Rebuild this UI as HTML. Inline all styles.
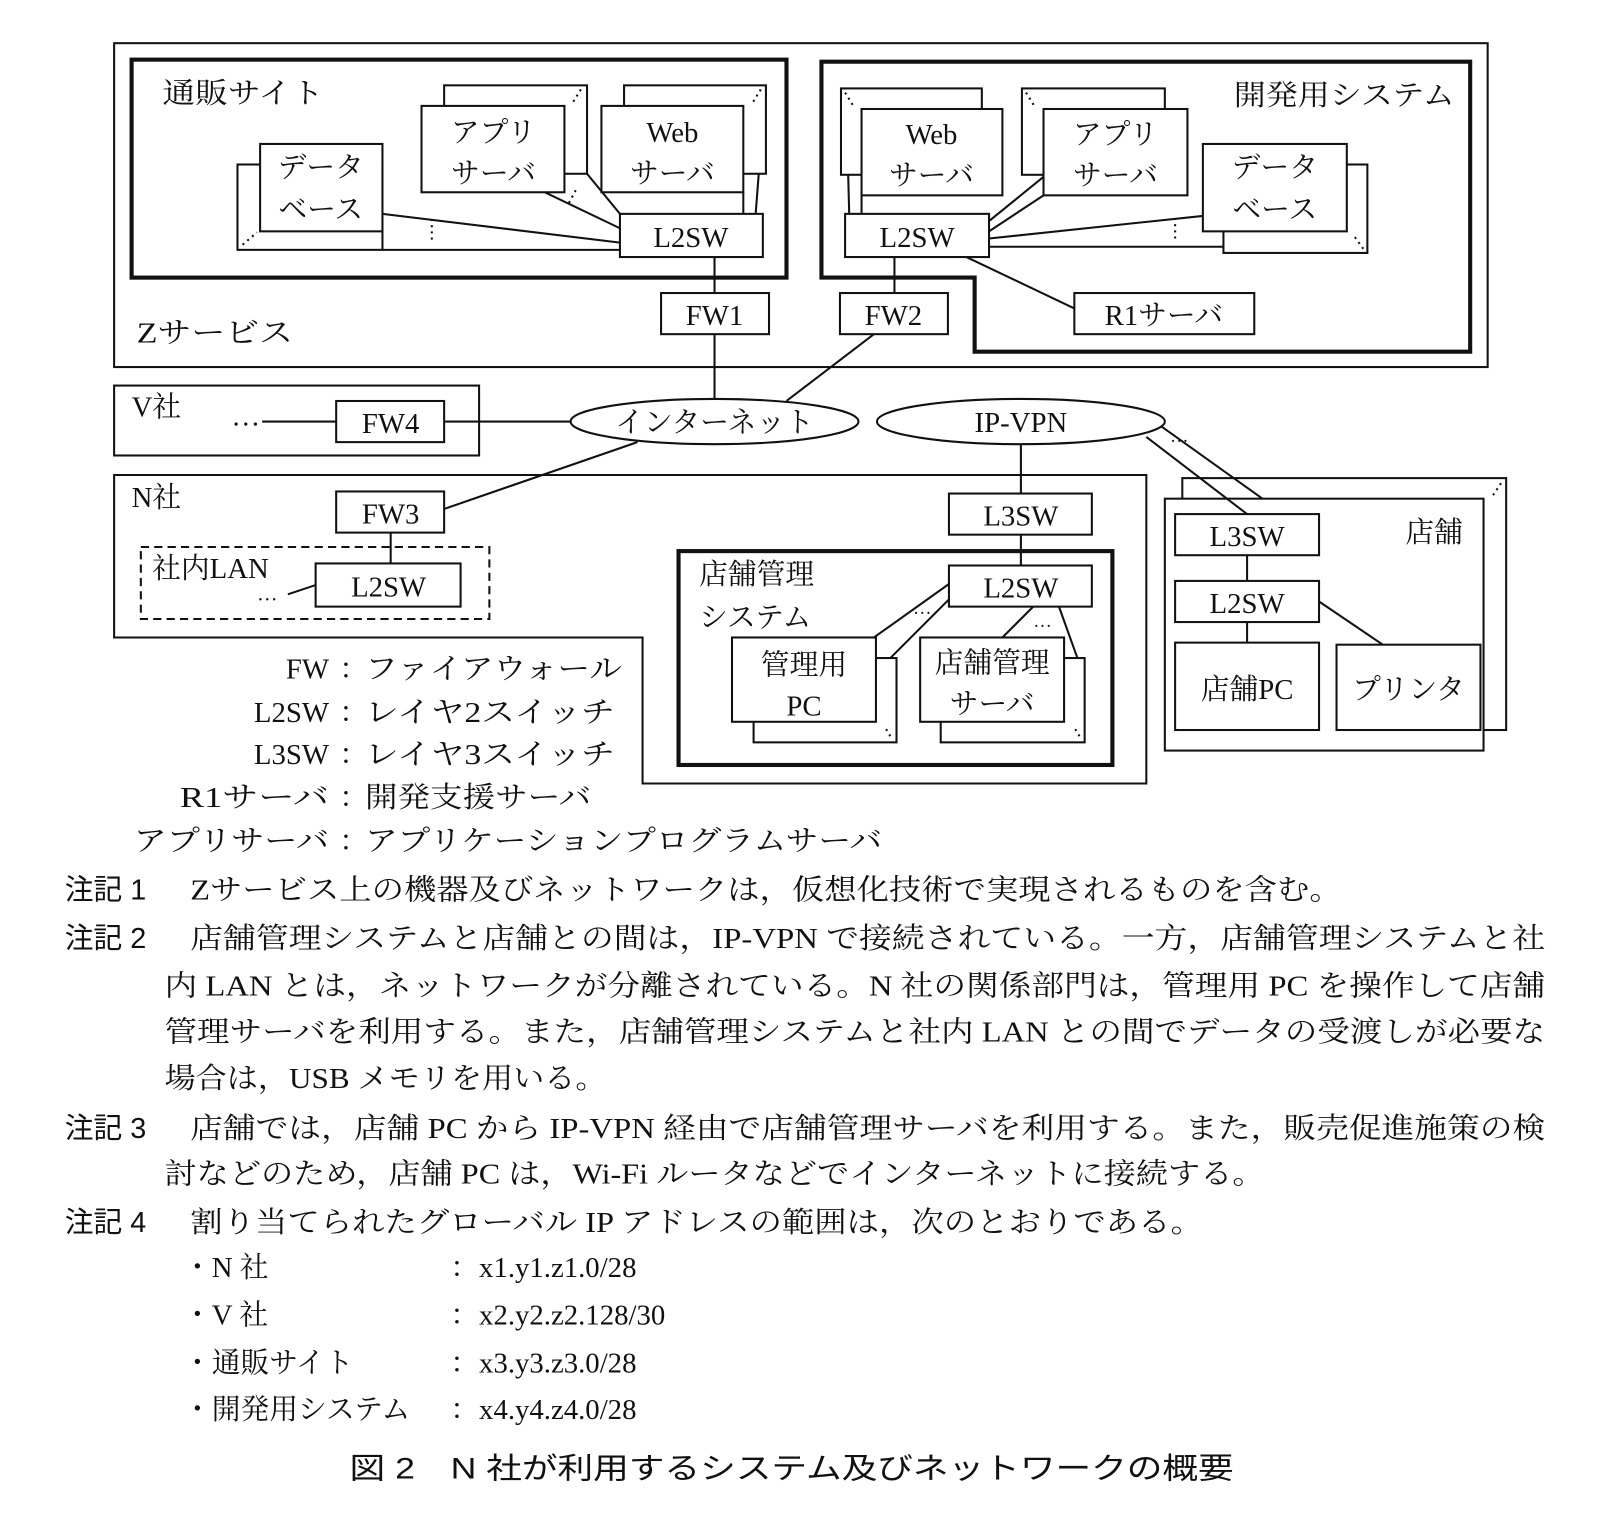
<!DOCTYPE html>
<html><head><meta charset="utf-8"><style>
html,body{margin:0;padding:0;background:#fff;}
svg{display:block;}
text{font-family:"Liberation Serif","Noto Serif CJK SC",serif;fill:#111;}
.s{font-family:"Liberation Sans","Noto Sans CJK JP",sans-serif;}
</style></head><body>
<svg width="1610" height="1532" viewBox="0 0 1566 1490" preserveAspectRatio="none" xmlns="http://www.w3.org/2000/svg">
<g fill="#fff" stroke="#111" stroke-width="2">
<rect x="111" y="42" width="1336" height="315"/>
<rect x="128" y="58" width="637" height="212" stroke-width="4"/>
<polygon points="799,60 1430,60 1430,342 948,342 948,270 799,270" stroke-width="4"/>
<rect x="231" y="160" width="141" height="83"/>
<rect x="253" y="140" width="119" height="85"/>
<rect x="432" y="83" width="139" height="86"/>
<rect x="410" y="103" width="139" height="84"/>
<rect x="607" y="83" width="138" height="86"/>
<rect x="585" y="103" width="138" height="84"/>
<rect x="603" y="208" width="139" height="42"/>
<rect x="818" y="86" width="137" height="84"/>
<rect x="838" y="106" width="137" height="84"/>
<rect x="994" y="86" width="139" height="84"/>
<rect x="1015" y="106" width="140" height="84"/>
<rect x="1190" y="160" width="140" height="86"/>
<rect x="1170" y="140" width="140" height="85"/>
<rect x="822" y="208" width="140" height="42"/>
<rect x="643" y="285" width="105" height="40"/>
<rect x="817" y="285" width="105" height="40"/>
<rect x="1045" y="285" width="175" height="40"/>
<rect x="111" y="375" width="355" height="68"/>
<rect x="327" y="390" width="105" height="40"/>
<ellipse cx="695" cy="410" rx="140" ry="22"/>
<ellipse cx="993" cy="410" rx="140" ry="22"/>
<polygon points="111,462 1115,462 1115,762 625,762 625,620 111,620"/>
<rect x="327" y="478" width="105" height="40"/>
<rect x="137" y="532" width="339" height="70" stroke-dasharray="8,5"/>
<rect x="307" y="548" width="141" height="42"/>
<rect x="923" y="480" width="139" height="40"/>
<rect x="660" y="536" width="422" height="208" stroke-width="4"/>
<rect x="923" y="550" width="139" height="40"/>
<rect x="733" y="640" width="139" height="82"/>
<rect x="712" y="620" width="140" height="82"/>
<rect x="915" y="640" width="140" height="82"/>
<rect x="895" y="620" width="140" height="82"/>
<rect x="1150" y="465" width="315" height="245"/>
<rect x="1133" y="485" width="310" height="245"/>
<rect x="1143" y="500" width="140" height="40"/>
<rect x="1143" y="565" width="140" height="40"/>
<rect x="1143" y="625" width="140" height="85"/>
<rect x="1300" y="627" width="140" height="83"/>
</g>
<g stroke="#111" stroke-width="2" fill="none">
<line x1="372" y1="208" x2="603" y2="236"/>
<line x1="372" y1="243" x2="603" y2="243"/>
<line x1="530" y1="187" x2="603" y2="222"/>
<line x1="571" y1="169" x2="603" y2="208"/>
<line x1="723" y1="187" x2="723" y2="208"/>
<line x1="738" y1="169" x2="735" y2="208"/>
<line x1="695" y1="250" x2="695" y2="285"/>
<line x1="695" y1="325" x2="695" y2="388"/>
<line x1="838" y1="190" x2="838" y2="208"/>
<line x1="825" y1="170" x2="826" y2="208"/>
<line x1="962" y1="215" x2="1015" y2="172"/>
<line x1="962" y1="225" x2="1015" y2="190"/>
<line x1="962" y1="232" x2="1170" y2="210"/>
<line x1="962" y1="240" x2="1190" y2="240"/>
<line x1="940" y1="250" x2="1045" y2="300"/>
<line x1="870" y1="250" x2="870" y2="285"/>
<line x1="850" y1="325" x2="765" y2="390"/>
<line x1="255" y1="410" x2="327" y2="410"/>
<line x1="432" y1="410" x2="555" y2="410"/>
<line x1="432" y1="495" x2="620" y2="430"/>
<line x1="380" y1="518" x2="380" y2="548"/>
<line x1="280" y1="578" x2="307" y2="569"/>
<line x1="993" y1="432" x2="993" y2="480"/>
<line x1="993" y1="520" x2="993" y2="550"/>
<line x1="923" y1="568" x2="850" y2="620"/>
<line x1="923" y1="583" x2="866" y2="640"/>
<line x1="1005" y1="590" x2="975" y2="620"/>
<line x1="1030" y1="590" x2="1048" y2="640"/>
<line x1="1115" y1="425" x2="1213" y2="500"/>
<line x1="1130" y1="415" x2="1228" y2="485"/>
<line x1="1213" y1="540" x2="1213" y2="565"/>
<line x1="1213" y1="605" x2="1213" y2="625"/>
<line x1="1283" y1="585" x2="1345" y2="627"/>
</g>
<g stroke="#111" stroke-width="2" stroke-dasharray="2,4" fill="none">
<line x1="420" y1="213" x2="420" y2="236"/>
<line x1="236" y1="238" x2="250" y2="226"/>
<line x1="565" y1="87" x2="557" y2="100"/>
<line x1="740" y1="87" x2="732" y2="100"/>
<line x1="822" y1="90" x2="830" y2="103"/>
<line x1="998" y1="90" x2="1006" y2="103"/>
<line x1="1326" y1="242" x2="1316" y2="228"/>
<line x1="1143" y1="212" x2="1143" y2="236"/>
<line x1="560" y1="185" x2="552" y2="200"/>
<line x1="1460" y1="470" x2="1452" y2="482"/>
<line x1="866" y1="716" x2="860" y2="706"/>
<line x1="1050" y1="716" x2="1044" y2="706"/>
</g>
<g font-size="28">
<text x="158" y="100" textLength="157" lengthAdjust="spacingAndGlyphs">通販サイト</text>
<text x="1200" y="102" textLength="215" lengthAdjust="spacingAndGlyphs">開発用システム</text>
<text x="133" y="333" textLength="152" lengthAdjust="spacingAndGlyphs">Zサービス</text>
<text x="312" y="172" text-anchor="middle">データ</text>
<text x="312" y="213" text-anchor="middle">ベース</text>
<text x="480" y="138" text-anchor="middle">アプリ</text>
<text x="480" y="178" text-anchor="middle">サーバ</text>
<text x="654" y="138" text-anchor="middle">Web</text>
<text x="654" y="178" text-anchor="middle">サーバ</text>
<text x="672" y="240" text-anchor="middle">L2SW</text>
<text x="906" y="140" text-anchor="middle">Web</text>
<text x="906" y="180" text-anchor="middle">サーバ</text>
<text x="1085" y="140" text-anchor="middle">アプリ</text>
<text x="1085" y="180" text-anchor="middle">サーバ</text>
<text x="1240" y="172" text-anchor="middle">データ</text>
<text x="1240" y="213" text-anchor="middle">ベース</text>
<text x="892" y="240" text-anchor="middle">L2SW</text>
<text x="695" y="316" text-anchor="middle">FW1</text>
<text x="869" y="316" text-anchor="middle">FW2</text>
<text x="1132" y="316" text-anchor="middle">R1サーバ</text>
<text x="128" y="405">V社</text>
<text x="225" y="414">…</text>
<text x="380" y="421" text-anchor="middle">FW4</text>
<text x="695" y="420" text-anchor="middle">インターネット</text>
<text x="993" y="420" text-anchor="middle">IP-VPN</text>
<text x="128" y="493">N社</text>
<text x="380" y="509" text-anchor="middle">FW3</text>
<text x="148" y="562">社内LAN</text>
<text x="250" y="584" font-size="20">…</text>
<text x="378" y="580" text-anchor="middle">L2SW</text>
<text x="993" y="511" text-anchor="middle">L3SW</text>
<text x="993" y="581" text-anchor="middle">L2SW</text>
<text x="680" y="568">店舗管理</text>
<text x="680" y="610">システム</text>
<text x="888" y="597" font-size="18">…</text>
<text x="1005" y="610" font-size="18">…</text>
<text x="1138" y="430" font-size="18">…</text>
<text x="782" y="656" text-anchor="middle">管理用</text>
<text x="782" y="696" text-anchor="middle">PC</text>
<text x="965" y="654" text-anchor="middle">店舗管理</text>
<text x="965" y="694" text-anchor="middle">サーバ</text>
<text x="1213" y="531" text-anchor="middle">L3SW</text>
<text x="1395" y="527" text-anchor="middle">店舗</text>
<text x="1213" y="596" text-anchor="middle">L2SW</text>
<text x="1213" y="680" text-anchor="middle">店舗PC</text>
<text x="1370" y="680" text-anchor="middle">プリンタ</text>
<text x="320" y="660" text-anchor="end">FW</text><text x="330" y="660">：</text><text x="355" y="660" textLength="250" lengthAdjust="spacingAndGlyphs">ファイアウォール</text>
<text x="320" y="702" text-anchor="end">L2SW</text><text x="330" y="702">：</text><text x="355" y="702" textLength="243" lengthAdjust="spacingAndGlyphs">レイヤ2スイッチ</text>
<text x="320" y="743" text-anchor="end">L3SW</text><text x="330" y="743">：</text><text x="355" y="743" textLength="243" lengthAdjust="spacingAndGlyphs">レイヤ3スイッチ</text>
<text x="175" y="785" textLength="145" lengthAdjust="spacingAndGlyphs">R1サーバ</text><text x="330" y="785">：</text><text x="355" y="785" textLength="220" lengthAdjust="spacingAndGlyphs">開発支援サーバ</text>
<text x="130" y="827" textLength="190" lengthAdjust="spacingAndGlyphs">アプリサーバ</text><text x="330" y="827">：</text><text x="355" y="827" textLength="503" lengthAdjust="spacingAndGlyphs">アプリケーションプログラムサーバ</text>
</g>
<g font-size="28">
<text class="s" x="63" y="875">注記 1</text>
<text x="185" y="875" textLength="1120" lengthAdjust="spacingAndGlyphs">Zサービス上の機器及びネットワークは，仮想化技術で実現されるものを含む。</text>
<text class="s" x="63" y="922">注記 2</text>
<text x="185" y="922" textLength="1318" lengthAdjust="spacingAndGlyphs">店舗管理システムと店舗との間は，IP-VPN で接続されている。一方，店舗管理システムと社</text>
<text x="160" y="968" textLength="1343" lengthAdjust="spacingAndGlyphs">内 LAN とは，ネットワークが分離されている。N 社の関係部門は，管理用 PC を操作して店舗</text>
<text x="160" y="1013" textLength="1343" lengthAdjust="spacingAndGlyphs">管理サーバを利用する。また，店舗管理システムと社内 LAN との間でデータの受渡しが必要な</text>
<text x="160" y="1058" textLength="430" lengthAdjust="spacingAndGlyphs">場合は，USB メモリを用いる。</text>
<text class="s" x="63" y="1107">注記 3</text>
<text x="185" y="1107" textLength="1318" lengthAdjust="spacingAndGlyphs">店舗では，店舗 PC から IP-VPN 経由で店舗管理サーバを利用する。また，販売促進施策の検</text>
<text x="160" y="1151" textLength="1070" lengthAdjust="spacingAndGlyphs">討などのため，店舗 PC は，Wi-Fi ルータなどでインターネットに接続する。</text>
<text class="s" x="63" y="1198">注記 4</text>
<text x="185" y="1198" textLength="985" lengthAdjust="spacingAndGlyphs">割り当てられたグローバル IP アドレスの範囲は，次のとおりである。</text>
<text x="178" y="1242">・N 社</text><text x="438" y="1242">：x1.y1.z1.0/28</text>
<text x="178" y="1288">・V 社</text><text x="438" y="1288">：x2.y2.z2.128/30</text>
<text x="178" y="1335">・通販サイト</text><text x="438" y="1335">：x3.y3.z3.0/28</text>
<text x="178" y="1380">・開発用システム</text><text x="438" y="1380">：x4.y4.z4.0/28</text>
<text class="s" x="340" y="1438" font-size="29" textLength="860" lengthAdjust="spacingAndGlyphs">図 2　N 社が利用するシステム及びネットワークの概要</text>
</g>
</svg>
</body></html>
